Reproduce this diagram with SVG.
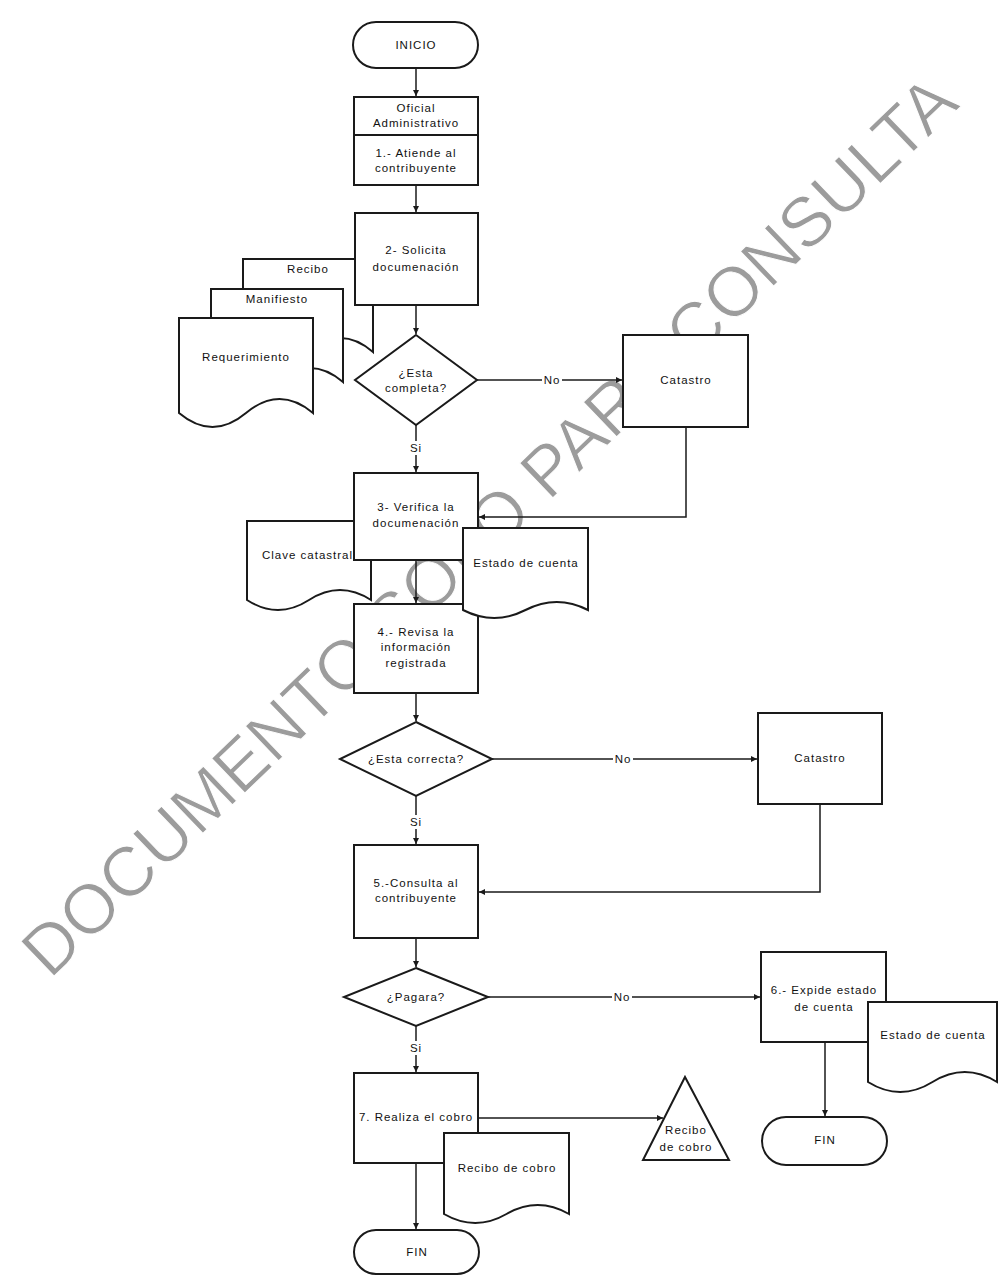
<svg xmlns="http://www.w3.org/2000/svg" width="1007" height="1275" viewBox="0 0 1007 1275">
<style>
.bx{fill:#fff;stroke:#1a1a1a;stroke-width:2}
.ln{fill:none;stroke:#1a1a1a;stroke-width:1.5}
.t{font-family:"Liberation Sans",Arial,sans-serif;font-size:11.5px;letter-spacing:1px;fill:#111;text-anchor:middle}
.ts{font-family:"Liberation Sans",Arial,sans-serif;font-size:11.5px;letter-spacing:1px;fill:#111}
.lb{fill:#fff}
.wm{font-family:"Liberation Sans",Arial,sans-serif;font-size:70px;fill:#9c9c9c;stroke:#fff;stroke-width:1}
</style>
<defs>
<marker id="ah" viewBox="0 0 10 10" refX="10" refY="5" markerWidth="7" markerHeight="6" markerUnits="userSpaceOnUse" orient="auto"><path d="M0,0 L10,5 L0,10 z" fill="#1a1a1a"/></marker>
</defs>
<rect width="1007" height="1275" fill="#fff"/>
<g id="watermark"><text class="wm" x="50" y="980" transform="rotate(-43.8 50 980)">DOCUMENTO SOLO PARA CONSULTA</text></g>
<g id="connectors">
<path class="ln" d="M416,68 V96" marker-end="url(#ah)"/>
<path class="ln" d="M416,185 V212" marker-end="url(#ah)"/>
<path class="ln" d="M416,305 V334" marker-end="url(#ah)"/>
<path class="ln" d="M477,380 H622" marker-end="url(#ah)"/>
<rect class="lb" x="542" y="373" width="20" height="14"/><text class="t" x="552" y="384">No</text>
<path class="ln" d="M686,427 V517 H479" marker-end="url(#ah)"/>
<path class="ln" d="M416,425 V472" marker-end="url(#ah)"/>
<rect class="lb" x="409" y="441" width="14" height="14"/><text class="t" x="416" y="452">Si</text>
<path class="ln" d="M416,560 V603" marker-end="url(#ah)"/>
<path class="ln" d="M416,693 V721" marker-end="url(#ah)"/>
<path class="ln" d="M492,759 H757" marker-end="url(#ah)"/>
<rect class="lb" x="613" y="752" width="20" height="14"/><text class="t" x="623" y="763">No</text>
<path class="ln" d="M820,804 V892 H479" marker-end="url(#ah)"/>
<path class="ln" d="M416,796 V844" marker-end="url(#ah)"/>
<rect class="lb" x="409" y="815" width="14" height="14"/><text class="t" x="416" y="826">Si</text>
<path class="ln" d="M416,938 V967" marker-end="url(#ah)"/>
<path class="ln" d="M488,997 H760" marker-end="url(#ah)"/>
<rect class="lb" x="612" y="990" width="20" height="14"/><text class="t" x="622" y="1001">No</text>
<path class="ln" d="M825,1042 V1116" marker-end="url(#ah)"/>
<path class="ln" d="M416,1026 V1072" marker-end="url(#ah)"/>
<rect class="lb" x="409" y="1041" width="14" height="14"/><text class="t" x="416" y="1052">Si</text>
<path class="ln" d="M478,1118 H663" marker-end="url(#ah)"/>
<path class="ln" d="M416,1163 V1229" marker-end="url(#ah)"/>
</g>
<g id="inicio"><rect class="bx" x="353" y="22" width="125" height="46" rx="23"/><text class="t" x="416" y="49">INICIO</text></g>
<g id="paso1"><rect class="bx" x="354" y="97" width="124" height="88"/><path class="ln" d="M354,135 H478" style="stroke-width:2"/>
<text class="t" x="416" y="112">Oficial</text><text class="t" x="416" y="127">Administrativo</text>
<text class="t" x="416" y="157">1.- Atiende al</text><text class="t" x="416" y="172">contribuyente</text></g>
<g id="doc-recibo"><path class="bx" d="M243,352 V259 H373 V352 Q340.5,324 308,352 T243,352 Z"/><text class="t" x="308" y="273">Recibo</text></g>
<g id="doc-manifiesto"><path class="bx" d="M211,382 V289 H343 V382 Q310,354 277,382 T211,382 Z"/><text class="t" x="277" y="303">Manifiesto</text></g>
<g id="doc-requerimiento"><path class="bx" d="M179,413 V318 H313 V413 Q279.5,385 246,413 T179,413 Z"/><text class="t" x="246" y="361">Requerimiento</text></g>
<g id="paso2"><rect class="bx" x="355" y="213" width="123" height="92"/><text class="t" x="416" y="254">2- Solicita</text><text class="t" x="416" y="271">documenación</text></g>
<g id="dec-completa"><polygon class="bx" points="416,335 477,380 416,425 355,380"/><text class="t" x="416" y="377">¿Esta</text><text class="t" x="416" y="392">completa?</text></g>
<g id="catastro1"><rect class="bx" x="623" y="335" width="125" height="92"/><text class="t" x="686" y="384">Catastro</text></g>
<g id="doc-clave"><path class="bx" d="M247,600 V521 H371 V600 Q340,580 309,600 T247,600 Z"/><text class="ts" x="262" y="559">Clave catastral</text></g>
<g id="paso3"><rect class="bx" x="354" y="473" width="124" height="87"/><text class="t" x="416" y="511">3- Verifica la</text><text class="t" x="416" y="527">documenación</text></g>
<g id="paso4"><rect class="bx" x="354" y="604" width="124" height="89"/><text class="t" x="416" y="636">4.- Revisa la</text><text class="t" x="416" y="651">información</text><text class="t" x="416" y="667">registrada</text></g>
<g id="doc-estado1"><path class="bx" d="M463,610 V528 H588 V610 Q556.75,594 525.5,610 T463,610 Z"/><text class="t" x="526" y="567">Estado de cuenta</text></g>
<g id="dec-correcta"><polygon class="bx" points="416,722 492,759 416,796 340,759"/><text class="t" x="416" y="763">¿Esta correcta?</text></g>
<g id="catastro2"><rect class="bx" x="758" y="713" width="124" height="91"/><text class="t" x="820" y="762">Catastro</text></g>
<g id="paso5"><rect class="bx" x="354" y="845" width="124" height="93"/><text class="t" x="416" y="887">5.-Consulta al</text><text class="t" x="416" y="902">contribuyente</text></g>
<g id="dec-pagara"><polygon class="bx" points="416,968 488,997 416,1026 344,997"/><text class="t" x="416" y="1001">¿Pagara?</text></g>
<g id="paso6"><rect class="bx" x="761" y="952" width="125" height="90"/><text class="t" x="824" y="994">6.- Expide estado</text><text class="t" x="824" y="1011">de cuenta</text></g>
<g id="doc-estado2"><path class="bx" d="M868,1082 V1002 H997 V1082 Q964.75,1062 932.5,1082 T868,1082 Z"/><text class="t" x="933" y="1039">Estado de cuenta</text></g>
<g id="fin2"><rect class="bx" x="762" y="1117" width="125" height="48" rx="24"/><text class="t" x="825" y="1144">FIN</text></g>
<g id="paso7"><rect class="bx" x="354" y="1073" width="124" height="90"/><text class="t" x="416" y="1121">7. Realiza el cobro</text></g>
<g id="recibo-cobro-archivo"><polygon class="bx" points="685,1077 729,1160 643,1160"/><text class="t" x="686" y="1134">Recibo</text><text class="t" x="686" y="1151">de cobro</text></g>
<g id="doc-recibo-cobro"><path class="bx" d="M444,1214 V1133 H569 V1214 Q537.75,1196 506.5,1214 T444,1214 Z"/><text class="t" x="507" y="1172">Recibo de cobro</text></g>
<g id="fin1"><rect class="bx" x="354" y="1230" width="125" height="44" rx="22"/><text class="t" x="417" y="1256">FIN</text></g>
</svg>
